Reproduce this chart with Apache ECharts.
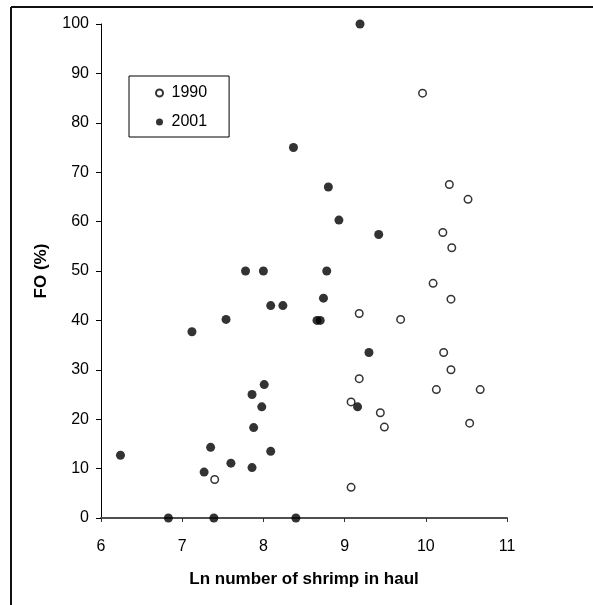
<!DOCTYPE html>
<html>
<head>
<meta charset="utf-8">
<script src="https://cdn.jsdelivr.net/npm/echarts@6/dist/echarts.min.js"></script>
<style>html,body{margin:0;padding:0;background:#fff}#c{width:593px;height:605px}</style>
</head>
<body>
<div id="c"></div>
<script>
// 1990 survey (open circles): [ln number of shrimp, FO %]
const data1990 = [
  [9.96, 86.0], [10.29, 67.5], [10.52, 64.5], [10.21, 57.8], [10.32, 54.7],
  [10.09, 47.5], [10.31, 44.3], [9.18, 41.4], [9.69, 40.2], [10.22, 33.5],
  [10.31, 30.0], [9.18, 28.2], [10.13, 26.0], [10.67, 26.0], [9.08, 23.5],
  [9.44, 21.3], [9.49, 18.4], [10.54, 19.2], [9.08, 6.2], [7.40, 7.8]
];
// 2001 survey (filled circles)
const data2001 = [
  [9.19, 100.0], [8.37, 75.0], [8.80, 67.0], [8.93, 60.3], [9.42, 57.4],
  [7.78, 50.0], [8.00, 50.0], [8.78, 50.0], [8.74, 44.5], [8.09, 43.0],
  [8.24, 43.0], [7.54, 40.2], [8.66, 40.0], [8.70, 40.0], [7.12, 37.7],
  [9.30, 33.5], [8.01, 27.0], [7.86, 25.0], [7.98, 22.5], [9.16, 22.5],
  [7.88, 18.3], [7.35, 14.3], [8.09, 13.5], [6.24, 12.7], [7.60, 11.1],
  [7.86, 10.2], [7.27, 9.3], [6.83, 0.0], [7.39, 0.0], [8.40, 0.0]
];
const seriesNames = ['1990', '2001'];
const xTitle = 'Ln number of shrimp in haul';
const yTitle = 'FO (%)';

const chart = echarts.init(document.getElementById('c'), null, {renderer: 'canvas'});
const FONT = 'Liberation Sans, Arial, sans-serif';
chart.setOption({
  animation: false,
  backgroundColor: '#fff',
  grid: {left: 101, right: 86, top: 24, bottom: 87},
  xAxis: {
    type: 'value', min: 6, max: 11, interval: 1,
    name: xTitle, nameLocation: 'middle', nameGap: 53,
    nameTextStyle: {fontFamily: FONT, fontSize: 17, fontWeight: 'bold', color: '#000'},
    axisLine: {show: true, onZero: false, lineStyle: {color: '#505050', width: 2}},
    axisTick: {show: true, length: 4, lineStyle: {color: '#303030', width: 1}},
    axisLabel: {fontFamily: FONT, fontSize: 16, color: '#000', margin: 21},
    splitLine: {show: false}
  },
  yAxis: {
    type: 'value', min: 0, max: 100, interval: 10,
    name: yTitle, nameLocation: 'middle', nameGap: 51,
    nameTextStyle: {fontFamily: FONT, fontSize: 17, fontWeight: 'bold', color: '#000'},
    axisLine: {show: true, lineStyle: {color: '#000', width: 1}},
    axisTick: {show: true, length: 5, lineStyle: {color: '#000', width: 1}},
    axisLabel: {fontFamily: FONT, fontSize: 16, color: '#000', margin: 12},
    splitLine: {show: false}
  },
  legend: {
    orient: 'vertical', left: 129, top: 76,
    padding: [9, 22, 7, 26],
    borderColor: '#000', borderWidth: 1,
    itemWidth: 14, itemHeight: 7, itemGap: 13,
    icon: 'circle',
    textStyle: {fontFamily: FONT, fontSize: 16, color: '#000'},
    data: seriesNames
  },
  series: [
    {
      name: seriesNames[0], type: 'scatter', data: data1990,
      symbol: 'circle', symbolSize: 7.5,
      itemStyle: {color: '#fff', borderColor: '#000', borderWidth: 1.5}
    },
    {
      name: seriesNames[1], type: 'scatter', data: data2001,
      symbol: 'circle', symbolSize: 9,
      itemStyle: {color: '#000'}
    }
  ],
  graphic: [
    {type: 'line', shape: {x1: 11, y1: 7, x2: 593, y2: 7}, style: {stroke: '#111', lineWidth: 2}},
    {type: 'line', shape: {x1: 11, y1: 7, x2: 11, y2: 605}, style: {stroke: '#111', lineWidth: 2}}
  ]
});
</script>
</body>
</html>
